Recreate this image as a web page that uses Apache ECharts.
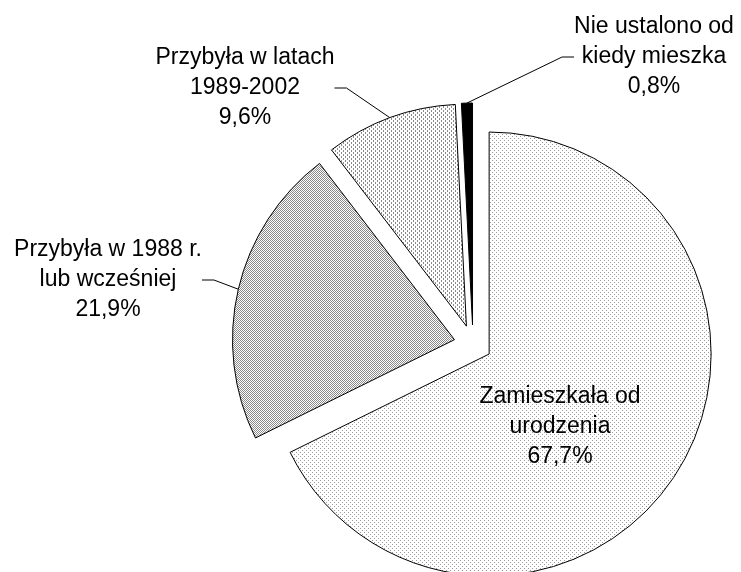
<!DOCTYPE html>
<html>
<head>
<meta charset="utf-8">
<script src="https://cdn.jsdelivr.net/npm/echarts@6/dist/echarts.min.js"></script>
<style>
html,body{margin:0;padding:0;background:#fff;}
#chart{width:741px;height:572px;}
</style>
</head>
<body>
<div id="chart"></div>
<script>
// ---- data ----
var categories = [
  'Zamieszkała od\nurodzenia',
  'Przybyła w 1988 r.\nlub wcześniej',
  'Przybyła w latach\n1989-2002',
  'Nie ustalono od\nkiedy mieszka'
];
var values = [67.7, 21.9, 9.6, 0.8];

// ---- layout ----
var pieCenter = [473, 344];
var pieRadius = 222;
var explode = 19;
var labelPos = [[560, 427], [108, 280], [245, 88], [654, 57]];

function makePattern(size, bg, fg, pts) {
  var c = document.createElement('canvas');
  c.width = size; c.height = size;
  var ctx = c.getContext('2d');
  ctx.fillStyle = bg; ctx.fillRect(0, 0, size, size);
  ctx.fillStyle = fg;
  pts.forEach(function (p) { ctx.fillRect(p[0], p[1], 1, 1); });
  return { image: c, repeat: 'repeat' };
}
var fills = [
  makePattern(4, '#ffffff', '#9a9a9a', [[0, 0], [2, 2]]),
  makePattern(4, '#ffffff', '#8a8a8a', [[0, 0], [2, 0], [1, 1], [3, 1], [0, 2], [2, 2], [1, 3], [3, 3]]),
  makePattern(4, '#ffffff', '#8a8a8a', [[1, 0], [1, 1], [3, 2], [3, 3]]),
  '#000000'
];

var total = values.reduce(function (a, b) { return a + b; }, 0);
var cum = 0;
var series = categories.map(function (nm, k) {
  var mid = (cum + values[k] / 2) / total * 2 * Math.PI;
  cum += values[k];
  var c = [pieCenter[0] + explode * Math.sin(mid), pieCenter[1] - explode * Math.cos(mid)];
  var data = categories.map(function (name, i) {
    var on = i === k;
    return {
      name: name,
      value: values[i],
      itemStyle: on ? { color: fills[i], borderColor: '#000', borderWidth: 1 }
                    : { color: 'rgba(0,0,0,0)', borderWidth: 0 },
      label: { show: on },
      labelLine: { show: on && i !== 0 }
    };
  });
  return {
    type: 'pie',
    center: c,
    radius: [0, pieRadius],
    startAngle: 90,
    clockwise: true,
    avoidLabelOverlap: false,
    silent: true,
    z: 2,
    data: data,
    label: {
      position: 'outside',
      color: '#000',
      fontFamily: 'Liberation Sans, Arial, sans-serif',
      fontSize: 23,
      lineHeight: 30,
      align: 'center',
      formatter: function (p) {
        return p.name + '\n' + p.value.toFixed(1).replace('.', ',') + '%';
      }
    },
    labelLine: {
      length: 10,
      length2: 12,
      lineStyle: { color: '#000', width: 1 }
    },
    labelLayout: function (params) {
      var p = labelPos[params.dataIndex];
      return { x: p[0], y: p[1], align: 'center', verticalAlign: 'middle' };
    }
  };
});

var chart = echarts.init(document.getElementById('chart'), null, { renderer: 'canvas' });
chart.setOption({
  animation: false,
  backgroundColor: '#fff',
  series: series
});
</script>
</body>
</html>
